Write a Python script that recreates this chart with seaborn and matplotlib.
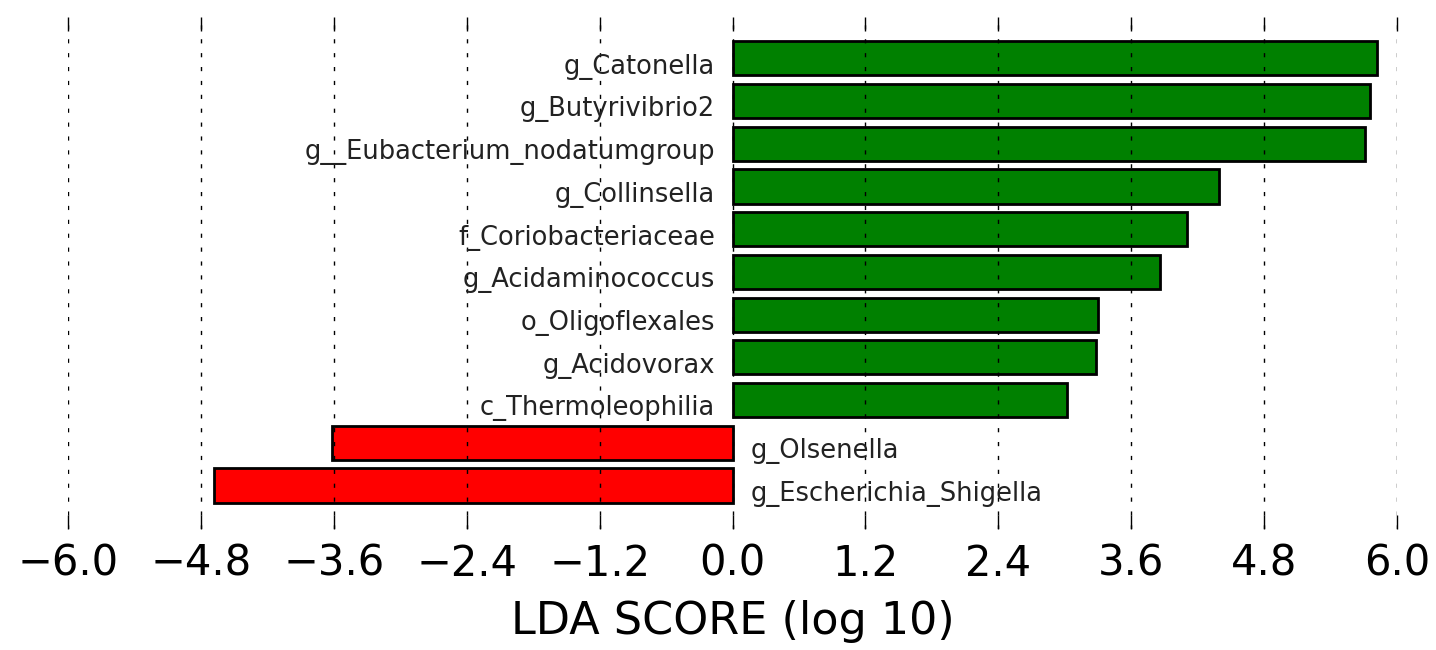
import numpy as np
import pandas as pd
import matplotlib
matplotlib.use('Agg')
import matplotlib.pyplot as plt
import seaborn as sns
from matplotlib.ticker import FuncFormatter

# LDA scores, top to bottom
features = ['g_Catonella', 'g_Butyrivibrio2', 'g__Eubacterium_nodatumgroup', 'g_Collinsella',
            'f_Coriobacteriaceae', 'g_Acidaminococcus', 'o_Oligoflexales', 'g_Acidovorax',
            'c_Thermoleophilia', 'g_Olsenella', 'g_Escherichia_Shigella']
lda_scores = [5.82, 5.76, 5.71, 4.39, 4.10, 3.86, 3.30, 3.28, 3.02, -3.62, -4.68]
groups = ['up', 'up', 'up', 'up', 'up', 'up', 'up', 'up', 'up', 'down', 'down']
group_colors = {'up': '#008000', 'down': '#ff0000'}
xticks = [-6.0, -4.8, -3.6, -2.4, -1.2, 0.0, 1.2, 2.4, 3.6, 4.8, 6.0]

sns.set_style('white', {'text.color': 'black', 'axes.labelcolor': 'black',
                        'xtick.color': 'black', 'ytick.color': 'black'})
plt.rcParams['font.family'] = ['DejaVu Sans']

df = pd.DataFrame({'feature': features, 'score': lda_scores, 'group': groups})

fig = plt.figure(figsize=(14.36, 6.5), dpi=100)
ax = fig.add_axes([0.0474, 0.186, 0.9254, 0.788])

sns.barplot(data=df, x='score', y='feature', hue='group', palette=group_colors, orient='h',
            dodge=False, width=0.8, saturation=1, legend=False, edgecolor='black',
            linewidth=2, ax=ax)

# feature names next to the zero line, on the opposite side of the bar
for i, (name, score) in enumerate(zip(features, lda_scores)):
    if score >= 0:
        ax.text(-0.16, i + 0.36, name, ha='right', va='baseline', fontsize=18.5, color='#222222')
    else:
        ax.text(0.16, i + 0.36, name, ha='left', va='baseline', fontsize=18.5, color='#222222')

ax.set_xlim(-6, 6)
ax.set_ylim(len(features) - 1 + 1.02, -0.97)
ax.set_xticks(xticks)
ax.xaxis.set_major_formatter(FuncFormatter(lambda v, p: ('%.1f' % v).replace('-', '\u2212')))
ax.set_yticks([])
ax.set_ylabel('')
ax.set_xlabel('LDA SCORE (log 10)', fontsize=32, labelpad=11)
ax.tick_params(axis='x', which='both', direction='in', top=True, bottom=True,
               length=10, width=1, labelsize=30, pad=10, color='black', labelcolor='black')

for side in ['left', 'right', 'top', 'bottom']:
    ax.spines[side].set_visible(False)

ax.set_axisbelow(False)
ax.grid(axis='x', color='black', linestyle=(0, (3, 7)), linewidth=1)
ax.grid(axis='y', visible=False)

fig.savefig('out.png', dpi=100)
